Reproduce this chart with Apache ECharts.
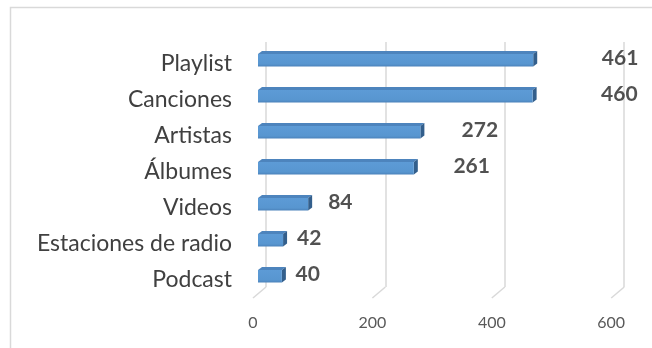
<!DOCTYPE html>
<html>
<head>
<meta charset="utf-8">
<script src="https://cdn.jsdelivr.net/npm/echarts@6/dist/echarts.min.js"></script>
<style>
  html, body { margin: 0; padding: 0; background: #fff; }
  #chart { width: 652px; height: 348px; }
</style>
</head>
<body>
<div id="chart"></div>
<script>
// Usage by content type
const categories = ['Playlist', 'Canciones', 'Artistas', 'Álbumes', 'Videos', 'Estaciones de radio', 'Podcast'];
const values = [461, 460, 272, 261, 84, 42, 40];
const xTicks = [0, 200, 400, 600];

const AXIS_MAX = 600;
// value labels sit on their own, slightly stretched scale (perspective)
const LABEL_AXIS_MAX = 504;
const FONT = 'Lato, "Open Sans", sans-serif';

const chart = echarts.init(document.getElementById('chart'), null, { renderer: 'canvas' });

// 3D-looking box for each bar: front face, top face and right side
function renderBox(params, api) {
  const idx = api.value(0);
  const v = api.value(1);
  const p0 = api.coord([0, idx]);
  const p1 = api.coord([v, idx]);
  const x0 = p0[0], x1 = p1[0], yc = p0[1];
  const dx = 4, dy = 3;
  const top = yc - 4.5, bot = yc + 8;
  return {
    type: 'group',
    children: [
      {
        type: 'polygon',
        shape: { points: [[x0, top], [x0 + dx, top - dy], [x1 + dx, top - dy], [x1, top]] },
        style: { fill: '#4d84bd' }
      },
      {
        type: 'polygon',
        shape: { points: [[x1, top], [x1 + dx, top - dy], [x1 + dx, bot - dy], [x1, bot]] },
        style: { fill: '#335f8c' }
      },
      {
        type: 'rect',
        shape: { x: x0, y: top, width: x1 - x0, height: bot - top },
        style: {
          fill: new echarts.graphic.LinearGradient(0, 0, 0, 1, [
            { offset: 0, color: '#5d9bd6' },
            { offset: 0.8, color: '#5896d0' },
            { offset: 1, color: '#4b82ba' }
          ])
        }
      }
    ]
  };
}

// Floor lines running from the front edge back to the wall gridlines
function renderFloor(params, api) {
  const p = api.coord([api.value(0), 0]);
  return {
    type: 'line',
    shape: { x1: p[0], y1: p[1], x2: p[0] + 13, y2: p[1] - 11 },
    style: { stroke: '#d9d9d9', lineWidth: 1.5 }
  };
}

const option = {
  backgroundColor: '#ffffff',
  animation: false,
  graphic: [{
    type: 'rect',
    left: 8, top: 5,
    shape: { width: 700, height: 400 },
    style: { fill: 'none', stroke: '#d9d9d9', lineWidth: 1.5 },
    silent: true,
    z: -10
  }],
  grid: [
    // bars
    { left: 258, top: 40.5, width: 358.2, height: 252 },
    // back wall gridlines
    { left: 266, top: 42, width: 358.2, height: 245 },
    // front edge with tick labels
    { left: 253, top: 42, width: 358.2, height: 256 },
    // value labels
    { left: 278, top: 40.5, width: 374, height: 252 },
    // category labels, set on the front face of the bars
    { left: 258, top: 45.5, width: 358.2, height: 252 }
  ],
  xAxis: [
    { gridIndex: 0, type: 'value', min: 0, max: AXIS_MAX, show: false },
    {
      gridIndex: 1, type: 'value', min: 0, max: AXIS_MAX, interval: 200,
      axisLine: { show: false }, axisTick: { show: false }, axisLabel: { show: false },
      splitLine: { show: true, lineStyle: { color: '#d9d9d9', width: 1.5 } }
    },
    {
      gridIndex: 2, type: 'value', min: 0, max: AXIS_MAX, interval: 200,
      axisLine: { show: false }, axisTick: { show: false }, splitLine: { show: false },
      axisLabel: {
        show: true, margin: 17, color: '#595959',
        fontFamily: FONT, fontSize: 16
      }
    },
    { gridIndex: 3, type: 'value', min: 0, max: LABEL_AXIS_MAX, show: false },
    { gridIndex: 4, type: 'value', min: 0, max: AXIS_MAX, show: false }
  ],
  yAxis: [
    { gridIndex: 0, type: 'category', data: categories, inverse: true, show: false },
    { gridIndex: 1, type: 'value', min: 0, max: 1, show: false },
    { gridIndex: 2, type: 'value', min: 0, max: 1, show: false },
    { gridIndex: 3, type: 'category', data: categories, inverse: true, show: false },
    {
      gridIndex: 4, type: 'category', data: categories, inverse: true,
      axisLine: { show: false }, axisTick: { show: false }, splitLine: { show: false },
      axisLabel: { margin: 26, color: '#404040', fontFamily: FONT, fontSize: 23 }
    }
  ],
  series: [
    {
      type: 'custom',
      xAxisIndex: 2, yAxisIndex: 2,
      renderItem: renderFloor,
      data: xTicks.map(t => [t]),
      encode: { x: 0 },
      silent: true, z: 1
    },
    {
      type: 'custom',
      xAxisIndex: 0, yAxisIndex: 0,
      renderItem: renderBox,
      data: values.map((v, i) => [i, v]),
      encode: { y: 0, x: 1 },
      z: 3
    },
    {
      type: 'scatter',
      xAxisIndex: 3, yAxisIndex: 3,
      symbolSize: 0,
      data: values.map((v, i) => [v, i]),
      label: {
        show: true, position: 'inside',
        formatter: p => p.value[0],
        color: '#262626', fontFamily: FONT, fontSize: 21, fontWeight: 'bold'
      },
      silent: true, z: 4
    }
  ]
};

chart.setOption(option);
</script>
</body>
</html>
